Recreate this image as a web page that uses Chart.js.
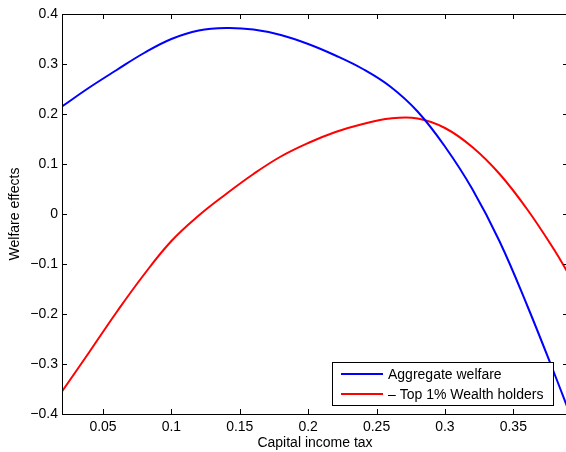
<!DOCTYPE html>
<html>
<head>
<meta charset="utf-8">
<script src="https://cdn.jsdelivr.net/npm/chart.js@4/dist/chart.umd.min.js"></script>
<style>
  html, body { margin: 0; padding: 0; background: #fff; overflow: hidden; }
  #wrap { width: 572px; height: 452px; }
</style>
</head>
<body>
<div id="wrap"><canvas id="welfareChart" width="572" height="452"></canvas></div>
<script>
// Capital income tax rates on the horizontal axis
const taxRates = [0.02, 0.04, 0.06, 0.08, 0.10, 0.12, 0.14, 0.16, 0.18, 0.20,
  0.22, 0.24, 0.26, 0.28, 0.30, 0.32, 0.34, 0.36, 0.38, 0.39];

// Welfare effect for the whole economy
const aggregateWelfare = [0.215, 0.253, 0.288, 0.322, 0.350, 0.367, 0.372, 0.369, 0.358, 0.340,
  0.317, 0.290, 0.255, 0.205, 0.135, 0.050, -0.055, -0.182, -0.319, -0.39];

// Welfare effect for the richest 1% (sign flipped)
const topWealthHolders = [-0.355, -0.276, -0.196, -0.121, -0.054, -0.003, 0.040, 0.080, 0.115, 0.142,
  0.164, 0.180, 0.191, 0.191, 0.172, 0.134, 0.080, 0.010, -0.072, -0.118];

const xTicks = [0.05, 0.1, 0.15, 0.2, 0.25, 0.3, 0.35];
const yTicks = [-0.4, -0.3, -0.2, -0.1, 0, 0.1, 0.2, 0.3, 0.4];

const seriesLabels = ['Aggregate welfare', '\u2013 Top 1% Wealth holders'];
const seriesColors = ['#0000ff', '#ff0000'];

Chart.defaults.font.family = "'Liberation Sans', Arial, Helvetica, sans-serif";
Chart.defaults.font.size = 14;
Chart.defaults.color = '#000';

function toPoints(ys) {
  return taxRates.map((x, i) => ({ x: x, y: ys[i] }));
}

// box around the plot with inward ticks on all four sides
const axesBox = {
  id: 'axesBox',
  afterDatasetsDraw(chart) {
    const { ctx, chartArea: a, scales } = chart;
    const len = 5;
    ctx.save();
    ctx.strokeStyle = '#000';
    ctx.lineWidth = 1;
    ctx.beginPath();
    xTicks.forEach(v => {
      const px = Math.round(scales.x.getPixelForValue(v)) + 0.5;
      ctx.moveTo(px, a.bottom); ctx.lineTo(px, a.bottom - len);
      ctx.moveTo(px, a.top); ctx.lineTo(px, a.top + len);
    });
    yTicks.forEach(v => {
      const py = Math.round(scales.y.getPixelForValue(v)) + 0.5;
      ctx.moveTo(a.left, py); ctx.lineTo(a.left + len, py);
      ctx.moveTo(a.right, py); ctx.lineTo(a.right - len, py);
    });
    ctx.stroke();
    ctx.strokeRect(Math.round(a.left) + 0.5, Math.round(a.top) + 0.5,
      Math.round(a.right - a.left), Math.round(a.bottom - a.top));
    ctx.restore();
  }
};

// legend box in the lower right corner
const boxLegend = {
  id: 'boxLegend',
  afterDraw(chart) {
    const { ctx } = chart;
    const x0 = 332.5, y0 = 362.5, w = 221, h = 43;
    ctx.save();
    ctx.fillStyle = '#fff';
    ctx.fillRect(x0, y0, w, h);
    ctx.strokeStyle = '#000';
    ctx.lineWidth = 1;
    ctx.strokeRect(x0, y0, w, h);
    ctx.font = "14px 'Liberation Sans', Arial, sans-serif";
    ctx.textBaseline = 'middle';
    chart.data.datasets.forEach((ds, i) => {
      const y = 374 + i * 20;
      ctx.strokeStyle = ds.borderColor;
      ctx.lineWidth = 2;
      ctx.beginPath();
      ctx.moveTo(341, y);
      ctx.lineTo(383, y);
      ctx.stroke();
      ctx.fillStyle = '#000';
      ctx.fillText(ds.label, 388, y + 1);
    });
    ctx.restore();
  }
};

new Chart(document.getElementById('welfareChart'), {
  type: 'line',
  data: {
    datasets: [
      {
        label: seriesLabels[0],
        data: toPoints(aggregateWelfare),
        borderColor: seriesColors[0],
        borderWidth: 2,
        pointRadius: 0,
        tension: 0.4,
        fill: false
      },
      {
        label: seriesLabels[1],
        data: toPoints(topWealthHolders),
        borderColor: seriesColors[1],
        borderWidth: 2,
        pointRadius: 0,
        tension: 0.4,
        fill: false
      }
    ]
  },
  options: {
    responsive: false,
    animation: false,
    layout: { padding: { top: 14, right: 4, left: 0, bottom: 0 } },
    plugins: {
      legend: { display: false },
      tooltip: { enabled: false }
    },
    scales: {
      x: {
        type: 'linear',
        min: 0.02,
        max: 0.39,
        afterBuildTicks: s => { s.ticks = xTicks.map(v => ({ value: v })); },
        afterFit: s => { s.height = 38; },
        grid: { display: false, drawTicks: false },
        border: { display: false },
        ticks: {
          padding: 5,
          maxRotation: 0,
          callback: v => String(+v.toFixed(2))
        },
        title: {
          display: true,
          text: 'Capital income tax',
          padding: { top: 0, bottom: 0 }
        }
      },
      y: {
        min: -0.4,
        max: 0.4,
        afterBuildTicks: s => { s.ticks = yTicks.map(v => ({ value: v })); },
        afterFit: s => { s.width = 62; },
        grid: { display: false, drawTicks: false },
        border: { display: false },
        ticks: {
          padding: 4,
          callback: v => {
            const r = Math.round(v * 10) / 10;
            if (r === 0) return '0';
            return (r < 0 ? '\u2212' : '') + Math.abs(r).toFixed(1);
          }
        },
        title: {
          display: true,
          text: 'Welfare effects',
          padding: { top: 7, bottom: 7 }
        }
      }
    }
  },
  plugins: [axesBox, boxLegend]
});
</script>
</body>
</html>
